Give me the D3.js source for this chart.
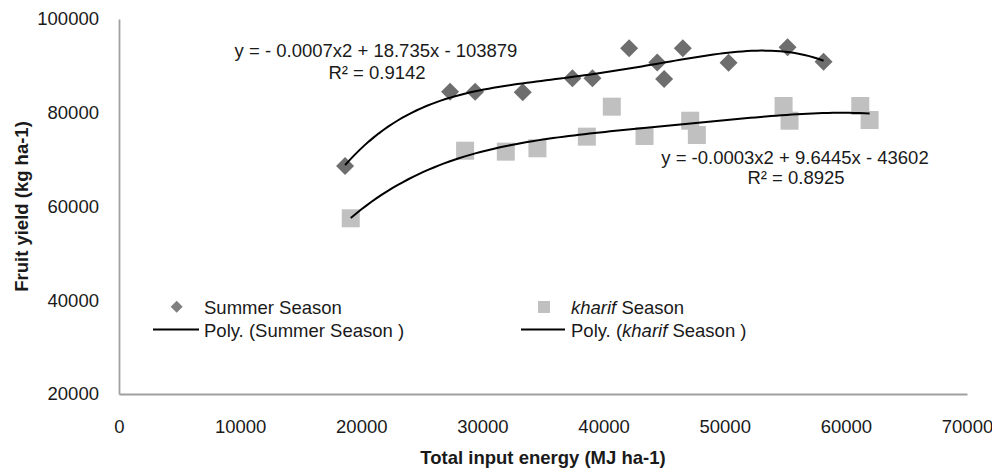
<!DOCTYPE html>
<html>
<head>
<meta charset="utf-8">
<script src="https://cdn.jsdelivr.net/npm/d3@7"></script>
<style>
    body { margin: 0; background: #fff; }
    svg { font-family: "Liberation Sans", Arial, sans-serif; }
</style>
</head>
<body>
<svg id="chart"></svg>
<script>
// energy input (MJ/ha) and fruit yield (kg/ha)
var summerX = [18660, 27330, 29400, 33330, 37430, 39080, 42110, 44430, 45000, 46540, 50320, 55190, 58160];
var summerY = [68640, 84500, 84500, 84360, 87350, 87350, 93740, 90720, 87200, 93740, 90680, 93950, 90900];
var kharifX = [19130, 28570, 31930, 34540, 38620, 40680, 43380, 47150, 47700, 54860, 55350, 61190, 61960];
var kharifY = [57480, 71900, 71700, 72420, 74900, 81300, 75040, 78300, 75250, 81440, 78300, 81440, 78450];
var xTicks = [0, 10000, 20000, 30000, 40000, 50000, 60000, 70000];
var yTicks = [20000, 40000, 60000, 80000, 100000];

// least squares polynomial, x scaled down to keep the normal equations sane
function polyFit(xs, ys, deg) {
    var n = deg + 1, A = [], b = [];
    for (var i = 0; i < n; i++) {
        A.push(new Array(n).fill(0));
        b.push(0);
    }
    xs.forEach(function (x0, k) {
        var x = x0 / 10000;
        for (var i = 0; i < n; i++) {
            for (var j = 0; j < n; j++) A[i][j] += Math.pow(x, i + j);
            b[i] += ys[k] * Math.pow(x, i);
        }
    });
    // gauss elimination
    for (var c = 0; c < n; c++) {
        for (var r = c + 1; r < n; r++) {
            var f = A[r][c] / A[c][c];
            for (var j = c; j < n; j++) A[r][j] -= f * A[c][j];
            b[r] -= f * b[c];
        }
    }
    var coef = new Array(n).fill(0);
    for (var r = n - 1; r >= 0; r--) {
        var s = b[r];
        for (var j = r + 1; j < n; j++) s -= A[r][j] * coef[j];
        coef[r] = s / A[r][r];
    }
    return function (x0) {
        var x = x0 / 10000;
        return coef.reduce(function (acc, c, i) { return acc + c * Math.pow(x, i); }, 0);
    };
}

function makeChart() {
    var W = 992, H = 469;
    var left = 119, right = 967, top = 19, bottom = 394;

    var svg = d3.select("#chart").attr("width", W).attr("height", H);

    var scX = d3.scaleLinear().domain([0, 70000]).range([left, right]);
    var scY = d3.scaleLinear().domain([20000, 100000]).range([bottom, top]);

    // axes: plain grey lines, no tick marks
    var axX = svg.append("g").attr("transform", "translate(0," + bottom + ")")
        .call(d3.axisBottom(scX).tickValues(xTicks).tickSize(0).tickPadding(25)
            .tickFormat(d3.format("d")));
    var axY = svg.append("g").attr("transform", "translate(" + left + ",0)")
        .call(d3.axisLeft(scY).tickValues(yTicks).tickSize(0).tickPadding(20)
            .tickFormat(d3.format("d")));
    [axX, axY].forEach(function (ax) {
        ax.select(".domain").attr("stroke", "#a0a0a0").attr("stroke-width", 1.8);
        ax.selectAll("text").attr("font-size", 18.5).attr("fill", "#1a1a1a")
            .attr("font-family", "Liberation Sans, Arial, sans-serif");
    });
    axX.selectAll("text").attr("dy", "0.32em").attr("y", 33);

    svg.append("text").attr("x", (left + right) / 2).attr("y", 457)
        .attr("text-anchor", "middle").attr("dominant-baseline", "central")
        .attr("font-size", 18.5).attr("font-weight", "bold").attr("fill", "#1a1a1a")
        .text("Total input energy (MJ ha-1)");
    svg.append("text").attr("transform", "translate(21," + (top + bottom) / 2 + ") rotate(-90)")
        .attr("text-anchor", "middle").attr("dominant-baseline", "central")
        .attr("font-size", 18.5).attr("font-weight", "bold").attr("fill", "#1a1a1a")
        .text("Fruit yield (kg ha-1)");

    var summer = summerX.map(function (x, i) { return [x, summerY[i]]; });
    var kharif = kharifX.map(function (x, i) { return [x, kharifY[i]]; });

    // markers
    var diamond = d3.symbol().type(d3.symbolSquare).size(162);
    svg.append("g").attr("fill", "#c0c0c0")
        .selectAll("rect").data(kharif).enter().append("rect")
        .attr("x", d => scX(d[0]) - 9).attr("y", d => scY(d[1]) - 9)
        .attr("width", 18).attr("height", 18);
    svg.append("g").attr("fill", "#6e6e6e")
        .selectAll("path").data(summer).enter().append("path")
        .attr("d", diamond)
        .attr("transform", d => "translate(" + scX(d[0]) + "," + scY(d[1]) + ") rotate(45)");

    // polynomial trend lines, order 4
    var lineMaker = d3.line().x(d => scX(d[0])).y(d => scY(d[1]));
    [[summerX, summerY, 4], [kharifX, kharifY, 4]].forEach(function (s) {
        var f = polyFit(s[0], s[1], s[2]);
        var lo = d3.min(s[0]), hi = d3.max(s[0]);
        var pts = d3.range(0, 101).map(function (k) {
            var x = lo + (hi - lo) * k / 100;
            return [x, f(x)];
        });
        svg.append("path").attr("fill", "none").attr("stroke", "#000")
            .attr("stroke-width", 2).attr("d", lineMaker(pts));
    });

    // equation labels
    function label(x, y, txt) {
        svg.append("text").attr("x", x).attr("y", y)
            .attr("text-anchor", "middle").attr("dominant-baseline", "central")
            .attr("font-size", 18.5).attr("fill", "#1a1a1a").text(txt);
    }
    label(376, 50, "y = - 0.0007x2 + 18.735x - 103879");
    label(377, 72, "R\u00b2 = 0.9142");
    label(795, 157, "y = -0.0003x2 + 9.6445x - 43602");
    label(796, 177, "R\u00b2 = 0.8925");

    // legend
    var leg = svg.append("g").attr("font-size", 18.5).attr("fill", "#1a1a1a");
    leg.append("path").attr("d", d3.symbol().type(d3.symbolSquare).size(72))
        .attr("fill", "#808080").attr("transform", "translate(176.7,306.7) rotate(45)");
    leg.append("rect").attr("x", 538).attr("y", 301).attr("width", 12).attr("height", 12)
        .attr("fill", "#c0c0c0");
    leg.append("line").attr("x1", 153).attr("x2", 199).attr("y1", 329.5).attr("y2", 329.5)
        .attr("stroke", "#000").attr("stroke-width", 2);
    leg.append("line").attr("x1", 521).attr("x2", 565).attr("y1", 329.5).attr("y2", 329.5)
        .attr("stroke", "#000").attr("stroke-width", 2);

    function legText(x, y, parts) {
        var t = leg.append("text").attr("x", x).attr("y", y).attr("dominant-baseline", "central");
        parts.forEach(function (p) {
            t.append("tspan").attr("font-style", p[1] ? "italic" : "normal").text(p[0]);
        });
    }
    legText(204, 306.7, [["Summer Season", false]]);
    legText(204, 330, [["Poly. (Summer Season )", false]]);
    legText(571, 306.7, [["kharif", true], [" Season", false]]);
    legText(571, 330, [["Poly. (", false], ["kharif", true], [" Season )", false]]);
}

makeChart();
</script>
</body>
</html>
